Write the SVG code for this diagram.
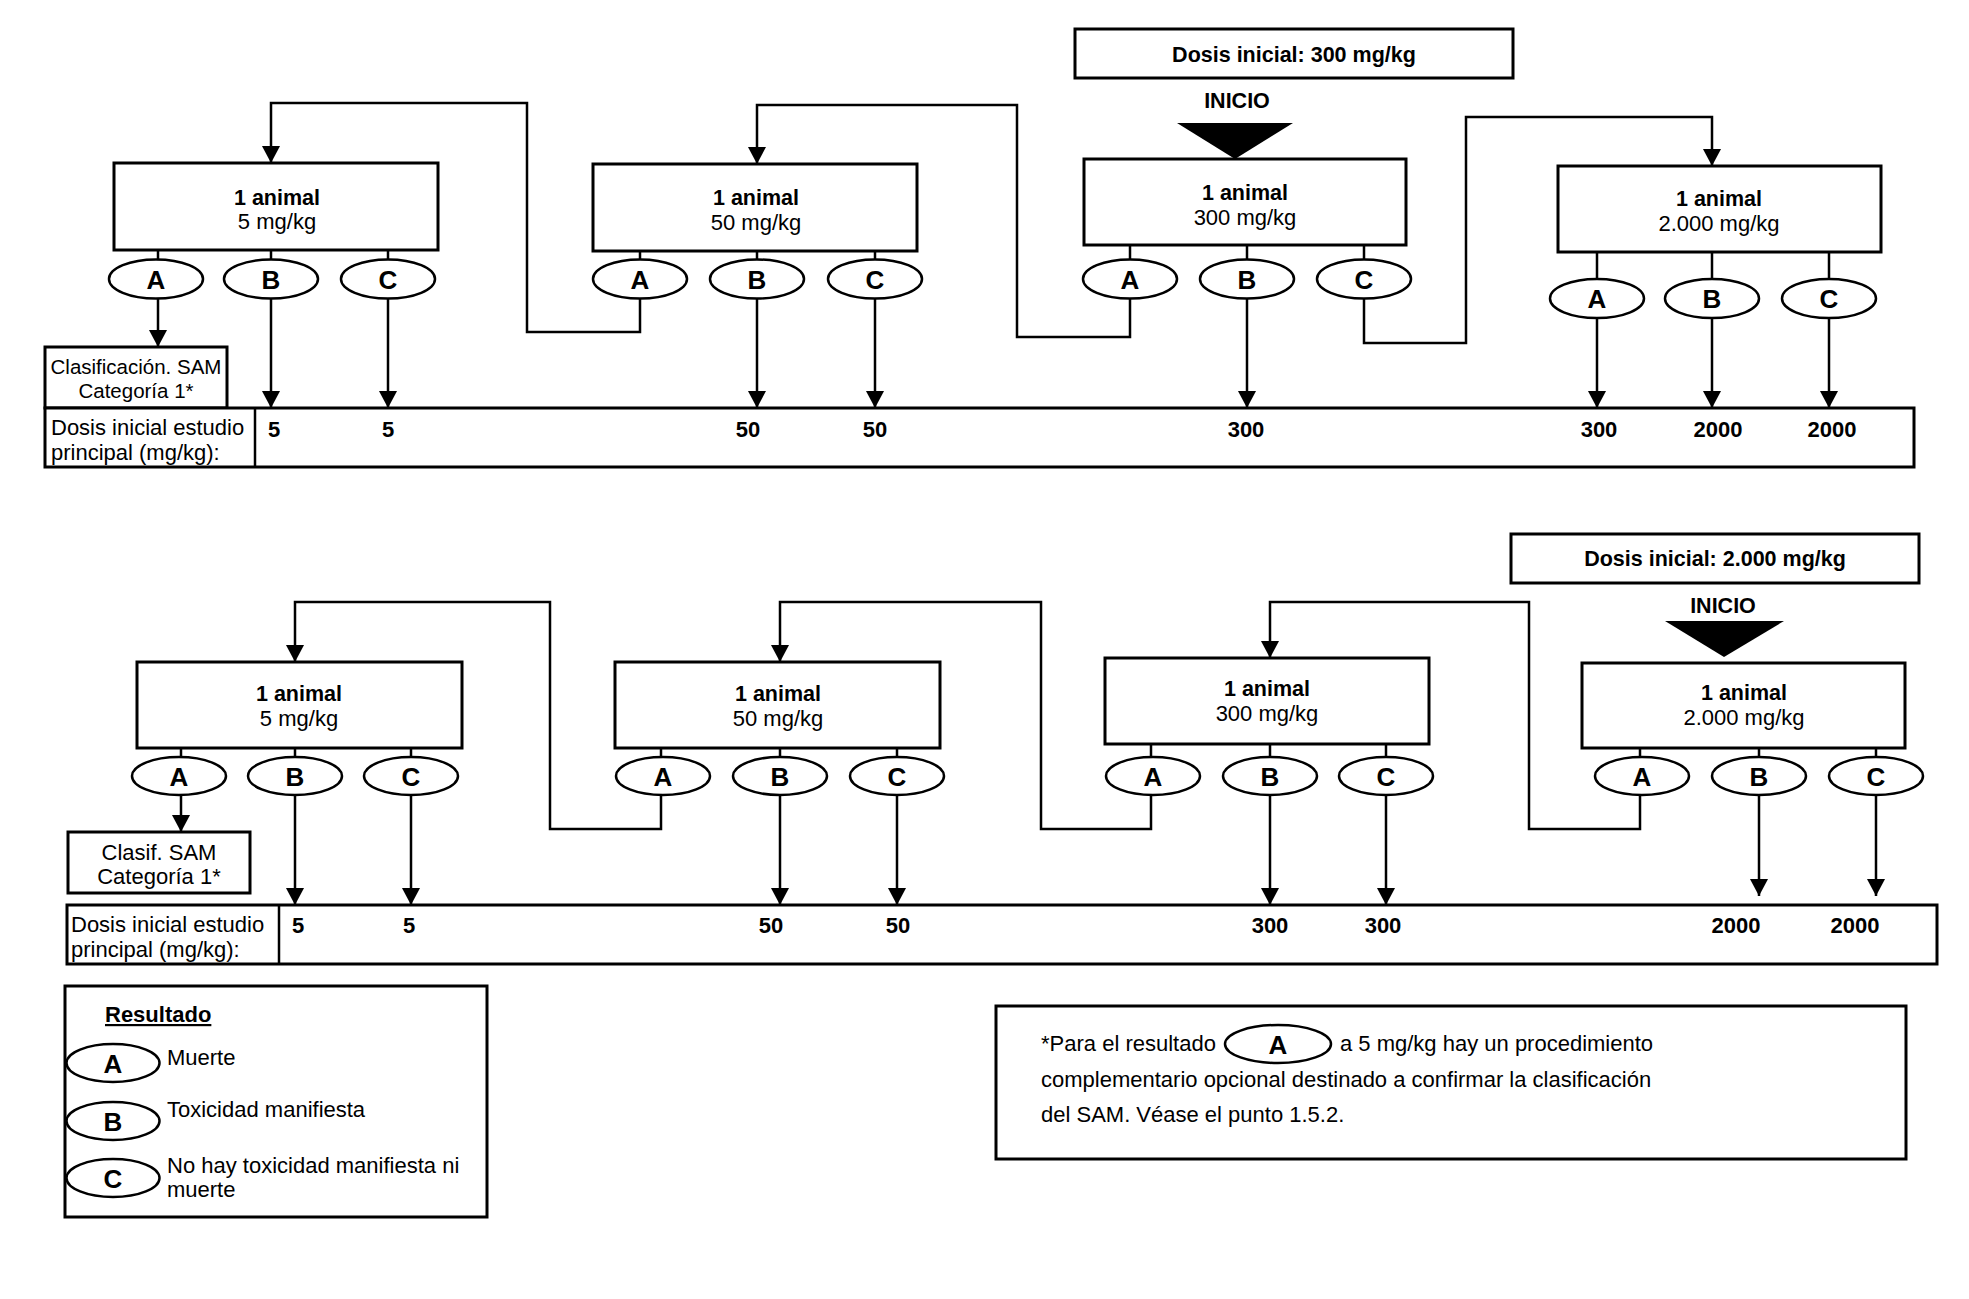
<svg xmlns="http://www.w3.org/2000/svg" width="1969" height="1299" viewBox="0 0 1969 1299">
<defs>
<marker id="ah" markerUnits="userSpaceOnUse" markerWidth="18" markerHeight="18" refX="17" refY="9" orient="auto"><path d="M0,0 L17,9 L0,18 z" fill="#000"/></marker>
<style>
.box{fill:#fff;stroke:#000;stroke-width:3}
.ell{fill:#fff;stroke:#000;stroke-width:2.5}
.ln{fill:none;stroke:#000;stroke-width:2.5}
.arr{marker-end:url(#ah)}
text{font-family:"Liberation Sans",Arial,sans-serif;font-size:22px;fill:#000}
.b{font-weight:bold;font-size:21.5px}
.m{text-anchor:middle}
.s{font-size:20.5px}
.L{font-size:26px;font-weight:bold;text-anchor:middle}
.v{font-size:22px;font-weight:bold;text-anchor:middle}
</style>
</defs>
<rect width="1969" height="1299" fill="#fff"/>

<!-- connectors -->
<g id="connectors">
<path class="ln" d="M158,250V259.5M271,250V259.5M388,250V259.5M640,251V259.5M757,251V259.5M875,251V259.5M1130,245V259.5M1247,245V259.5M1364,245V259.5M1597,252V279M1712,252V279M1829,252V279"/>
<path class="ln arr" d="M158,298.5V347"/>
<path class="ln arr" d="M271,298.5V408"/>
<path class="ln arr" d="M388,298.5V408"/>
<path class="ln arr" d="M757,298.5V408"/>
<path class="ln arr" d="M875,298.5V408"/>
<path class="ln arr" d="M1247,298.5V408"/>
<path class="ln arr" d="M1597,318V408"/>
<path class="ln arr" d="M1712,318V408"/>
<path class="ln arr" d="M1829,318V408"/>
<path class="ln arr" d="M640,298.5V332H527V103H271V163"/>
<path class="ln arr" d="M1130,298.5V337H1017V105H757V164"/>
<path class="ln arr" d="M1364,298.5V343H1466V117H1712V166"/>
<path class="ln" d="M181,748V757M295,748V757M411,748V757M661,748V757M780,748V757M897,748V757M1151,744V757M1270,744V757M1386,744V757M1640,748V757M1759,748V757M1876,748V757"/>
<path class="ln arr" d="M181,795V832"/>
<path class="ln arr" d="M295,795V905"/>
<path class="ln arr" d="M411,795V905"/>
<path class="ln arr" d="M780,795V905"/>
<path class="ln arr" d="M897,795V905"/>
<path class="ln arr" d="M1270,795V905"/>
<path class="ln arr" d="M1386,795V905"/>
<path class="ln arr" d="M1759,795V896"/>
<path class="ln arr" d="M1876,795V896"/>
<path class="ln arr" d="M661,795V829H550V602H295V662"/>
<path class="ln arr" d="M1151,795V829H1041V602H780V662"/>
<path class="ln arr" d="M1640,795V829H1529V602H1270V658"/>
</g>

<!-- top section -->
<g id="start-top">
<rect class="box" x="1075" y="29" width="438" height="49"/>
<text class="b m" x="1294" y="62">Dosis inicial: 300 mg/kg</text>
<text class="b m" x="1237" y="108">INICIO</text>
<path d="M1177,123H1293L1235,159z" fill="#000"/>
</g>
<g id="top-5">
<rect class="box" x="114" y="163" width="324" height="87"/>
<text class="b m" x="277" y="205">1 animal</text>
<text class="m" x="277" y="229">5 mg/kg</text>
</g>
<g id="top-5-A"><ellipse class="ell" cx="156" cy="279" rx="47" ry="19.5"/><text class="L" x="156" y="288.5">A</text></g>
<g id="top-5-B"><ellipse class="ell" cx="271" cy="279" rx="47" ry="19.5"/><text class="L" x="271" y="288.5">B</text></g>
<g id="top-5-C"><ellipse class="ell" cx="388" cy="279" rx="47" ry="19.5"/><text class="L" x="388" y="288.5">C</text></g>
<g id="top-50">
<rect class="box" x="593" y="164" width="324" height="87"/>
<text class="b m" x="756" y="205">1 animal</text>
<text class="m" x="756" y="230">50 mg/kg</text>
</g>
<g id="top-50-A"><ellipse class="ell" cx="640" cy="279" rx="47" ry="19.5"/><text class="L" x="640" y="288.5">A</text></g>
<g id="top-50-B"><ellipse class="ell" cx="757" cy="279" rx="47" ry="19.5"/><text class="L" x="757" y="288.5">B</text></g>
<g id="top-50-C"><ellipse class="ell" cx="875" cy="279" rx="47" ry="19.5"/><text class="L" x="875" y="288.5">C</text></g>
<g id="top-300">
<rect class="box" x="1084" y="159" width="322" height="86"/>
<text class="b m" x="1245" y="200">1 animal</text>
<text class="m" x="1245" y="225">300 mg/kg</text>
</g>
<g id="top-300-A"><ellipse class="ell" cx="1130" cy="279" rx="47" ry="19.5"/><text class="L" x="1130" y="288.5">A</text></g>
<g id="top-300-B"><ellipse class="ell" cx="1247" cy="279" rx="47" ry="19.5"/><text class="L" x="1247" y="288.5">B</text></g>
<g id="top-300-C"><ellipse class="ell" cx="1364" cy="279" rx="47" ry="19.5"/><text class="L" x="1364" y="288.5">C</text></g>
<g id="top-2000">
<rect class="box" x="1558" y="166" width="323" height="86"/>
<text class="b m" x="1719" y="206">1 animal</text>
<text class="m" x="1719" y="231">2.000 mg/kg</text>
</g>
<g id="top-2000-A"><ellipse class="ell" cx="1597" cy="298.5" rx="47" ry="19.5"/><text class="L" x="1597" y="308">A</text></g>
<g id="top-2000-B"><ellipse class="ell" cx="1712" cy="298.5" rx="47" ry="19.5"/><text class="L" x="1712" y="308">B</text></g>
<g id="top-2000-C"><ellipse class="ell" cx="1829" cy="298.5" rx="47" ry="19.5"/><text class="L" x="1829" y="308">C</text></g>
<g id="top-clasif">
<rect class="box" x="45" y="347" width="182" height="61"/>
<text class="m s" x="136" y="374">Clasificación. SAM</text>
<text class="m s" x="136" y="398">Categoría 1*</text>
</g>
<g id="top-table">
<rect class="box" x="45" y="408" width="1869" height="59"/>
<line class="ln" x1="255" y1="408" x2="255" y2="467" stroke-width="3"/>
<text x="51" y="435">Dosis inicial estudio</text>
<text x="51" y="460">principal (mg/kg):</text>
<text class="v" x="274" y="437">5</text>
<text class="v" x="388" y="437">5</text>
<text class="v" x="748" y="437">50</text>
<text class="v" x="875" y="437">50</text>
<text class="v" x="1246" y="437">300</text>
<text class="v" x="1599" y="437">300</text>
<text class="v" x="1718" y="437">2000</text>
<text class="v" x="1832" y="437">2000</text>
</g>

<!-- bottom section -->
<g id="start-bottom">
<rect class="box" x="1511" y="534" width="408" height="49"/>
<text class="b m" x="1715" y="566">Dosis inicial: 2.000 mg/kg</text>
<text class="b m" x="1723" y="613">INICIO</text>
<path d="M1665,621H1784L1724,657z" fill="#000"/>
</g>
<g id="bot-5">
<rect class="box" x="137" y="662" width="325" height="86"/>
<text class="b m" x="299" y="701">1 animal</text>
<text class="m" x="299" y="726">5 mg/kg</text>
</g>
<g id="bot-5-A"><ellipse class="ell" cx="179" cy="776" rx="47" ry="19"/><text class="L" x="179" y="785.5">A</text></g>
<g id="bot-5-B"><ellipse class="ell" cx="295" cy="776" rx="47" ry="19"/><text class="L" x="295" y="785.5">B</text></g>
<g id="bot-5-C"><ellipse class="ell" cx="411" cy="776" rx="47" ry="19"/><text class="L" x="411" y="785.5">C</text></g>
<g id="bot-50">
<rect class="box" x="615" y="662" width="325" height="86"/>
<text class="b m" x="778" y="701">1 animal</text>
<text class="m" x="778" y="726">50 mg/kg</text>
</g>
<g id="bot-50-A"><ellipse class="ell" cx="663" cy="776" rx="47" ry="19"/><text class="L" x="663" y="785.5">A</text></g>
<g id="bot-50-B"><ellipse class="ell" cx="780" cy="776" rx="47" ry="19"/><text class="L" x="780" y="785.5">B</text></g>
<g id="bot-50-C"><ellipse class="ell" cx="897" cy="776" rx="47" ry="19"/><text class="L" x="897" y="785.5">C</text></g>
<g id="bot-300">
<rect class="box" x="1105" y="658" width="324" height="86"/>
<text class="b m" x="1267" y="696">1 animal</text>
<text class="m" x="1267" y="721">300 mg/kg</text>
</g>
<g id="bot-300-A"><ellipse class="ell" cx="1153" cy="776" rx="47" ry="19"/><text class="L" x="1153" y="785.5">A</text></g>
<g id="bot-300-B"><ellipse class="ell" cx="1270" cy="776" rx="47" ry="19"/><text class="L" x="1270" y="785.5">B</text></g>
<g id="bot-300-C"><ellipse class="ell" cx="1386" cy="776" rx="47" ry="19"/><text class="L" x="1386" y="785.5">C</text></g>
<g id="bot-2000">
<rect class="box" x="1582" y="663" width="323" height="85"/>
<text class="b m" x="1744" y="700">1 animal</text>
<text class="m" x="1744" y="725">2.000 mg/kg</text>
</g>
<g id="bot-2000-A"><ellipse class="ell" cx="1642" cy="776" rx="47" ry="19"/><text class="L" x="1642" y="785.5">A</text></g>
<g id="bot-2000-B"><ellipse class="ell" cx="1759" cy="776" rx="47" ry="19"/><text class="L" x="1759" y="785.5">B</text></g>
<g id="bot-2000-C"><ellipse class="ell" cx="1876" cy="776" rx="47" ry="19"/><text class="L" x="1876" y="785.5">C</text></g>
<g id="bot-clasif">
<rect class="box" x="68" y="832" width="182" height="61"/>
<text class="m" x="159" y="860">Clasif. SAM</text>
<text class="m" x="159" y="884">Categoría 1*</text>
</g>
<g id="bot-table">
<rect class="box" x="67" y="905" width="1870" height="59"/>
<line class="ln" x1="279" y1="905" x2="279" y2="964" stroke-width="3"/>
<text x="71" y="932">Dosis inicial estudio</text>
<text x="71" y="957">principal (mg/kg):</text>
<text class="v" x="298" y="933">5</text>
<text class="v" x="409" y="933">5</text>
<text class="v" x="771" y="933">50</text>
<text class="v" x="898" y="933">50</text>
<text class="v" x="1270" y="933">300</text>
<text class="v" x="1383" y="933">300</text>
<text class="v" x="1736" y="933">2000</text>
<text class="v" x="1855" y="933">2000</text>
</g>

<!-- legend -->
<g id="legend">
<rect class="box" x="65" y="986" width="422" height="231"/>
<text class="b" x="105" y="1022" text-decoration="underline" style="font-size:22px">Resultado</text>
<ellipse class="ell" cx="113" cy="1063" rx="46.5" ry="19"/><text class="L" x="113" y="1073">A</text>
<text x="167" y="1065">Muerte</text>
<ellipse class="ell" cx="113" cy="1121" rx="46.5" ry="19"/><text class="L" x="113" y="1131">B</text>
<text x="167" y="1117">Toxicidad manifiesta</text>
<ellipse class="ell" cx="113" cy="1178" rx="46.5" ry="19"/><text class="L" x="113" y="1188">C</text>
<text x="167" y="1173">No hay toxicidad manifiesta ni</text>
<text x="167" y="1197">muerte</text>
</g>

<!-- note -->
<g id="note">
<rect class="box" x="996" y="1006" width="910" height="153"/>
<text x="1041" y="1051">*Para el resultado</text>
<ellipse class="ell" cx="1278" cy="1044" rx="53" ry="19"/><text class="L" x="1278" y="1054">A</text>
<text x="1340" y="1051">a 5 mg/kg hay un procedimiento</text>
<text x="1041" y="1087">complementario opcional destinado a confirmar la clasificación</text>
<text x="1041" y="1122">del SAM. Véase el punto 1.5.2.</text>
</g>
</svg>
